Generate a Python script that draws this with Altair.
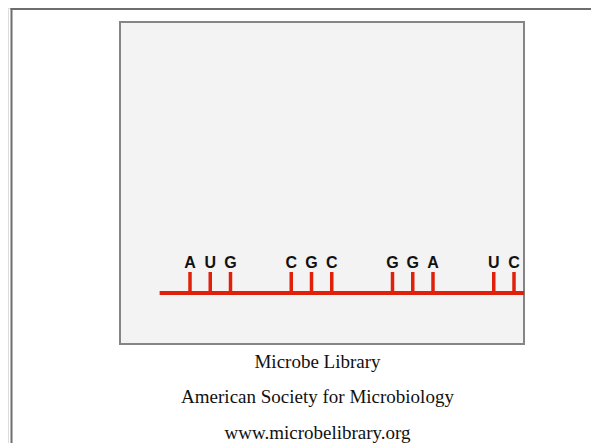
import altair as alt
import pandas as pd

# nucleotide positions along the mRNA strand (index units) and their bases
positions = [0, 1, 2, 5, 6, 7, 10, 11, 12, 15, 16]
bases = ["A", "U", "G", "C", "G", "C", "G", "G", "A", "U", "C"]
strand_start = [-1.5]
strand_end = [16.5]
captions = ["Microbe Library", "American Society for Microbiology", "www.microbelibrary.org"]

W, H = 583, 435
RED = "#e0200a"

nuc = pd.DataFrame({"pos": positions, "base": bases})
strand = pd.DataFrame({"start": strand_start, "end": strand_end})

xscale = alt.Scale(domain=[-182 / 20.25, (W - 182) / 20.25], nice=False, zero=False)
xenc = alt.X("pos:Q", scale=xscale, axis=None)

base = alt.Chart(pd.DataFrame({"d": [0]}))

outer_left = base.mark_rule(color="#6e6e6e", strokeWidth=2).encode(
    x=alt.value(3.5), y=alt.value(0), y2=alt.value(H))
outer_top = base.mark_rule(color="#6e6e6e", strokeWidth=2).encode(
    x=alt.value(2.5), x2=alt.value(W), y=alt.value(1))

box = base.mark_rect(fill="#f3f3f3", stroke="#858585", strokeWidth=2).encode(
    x=alt.value(112), x2=alt.value(516), y=alt.value(14), y2=alt.value(336))

strand_line = alt.Chart(strand).mark_rule(color=RED, strokeWidth=4, strokeCap="butt").encode(
    x=alt.X("start:Q", scale=xscale, axis=None), x2="end:Q", y=alt.value(285))

ticks = alt.Chart(nuc).mark_rule(color=RED, strokeWidth=3.5, strokeCap="butt").encode(
    x=xenc, y=alt.value(264), y2=alt.value(285))

letters = alt.Chart(nuc).mark_text(
    font="Liberation Sans", fontWeight="bold", fontSize=16, baseline="alphabetic",
    align="center", color="#111111").encode(
    x=xenc, y=alt.value(260), text="base:N")

cap_layers = []
for txt, yb in zip(captions, [360, 395, 431]):
    cap_layers.append(base.mark_text(
        font="Liberation Serif", fontSize=19, baseline="alphabetic", align="center",
        color="#111111").encode(x=alt.value(309.5), y=alt.value(yb), text=alt.value(txt)))

chart = alt.layer(outer_left, outer_top, box, strand_line, ticks, letters, *cap_layers).properties(
    width=W, height=H, padding=0, autosize=alt.AutoSizeParams(type="none")
).configure_view(stroke=None).configure(background="white")

chart.save("out.html", embed_options={"renderer": "svg", "actions": False})
